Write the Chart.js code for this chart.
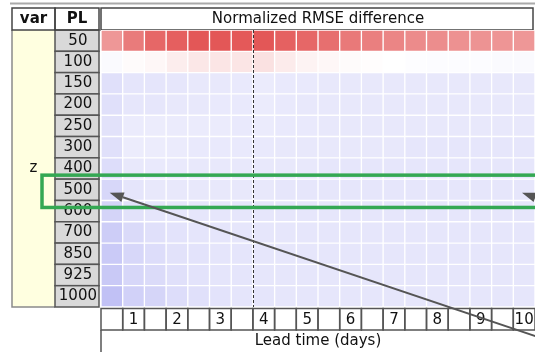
<!DOCTYPE html>
<html>
<head>
<meta charset="utf-8">
<script src="https://cdn.jsdelivr.net/npm/chart.js@4/dist/chart.umd.min.js"></script>
<style>
  body { margin: 0; background: #fff; }
  canvas { display: block; }
</style>
</head>
<body>
<canvas id="card" width="535" height="352"></canvas>
<script>
// pressure levels (rows) and lead times in days (columns)
const pressureLevels = ['50', '100', '150', '200', '250', '300', '400', '500', '600', '700', '850', '925', '1000'];
const leadTimes = [0.5, 1, 1.5, 2, 2.5, 3, 3.5, 4, 4.5, 5, 5.5, 6, 6.5, 7, 7.5, 8, 8.5, 9, 9.5, 10];
const variableName = 'z';
const splitDay = 3.5;      // dashed line
const highlightLevel = '500';

// normalized RMSE difference per level (positive = red, negative = blue)
const z50   = [0.52, 0.66, 0.76, 0.80, 0.84, 0.84, 0.83, 0.84, 0.79, 0.76, 0.72, 0.67, 0.64, 0.61, 0.58, 0.57, 0.55, 0.54, 0.53, 0.52];
const z100  = [-0.03, 0.02, 0.04, 0.09, 0.12, 0.13, 0.13, 0.15, 0.10, 0.06, 0.04, 0.02, 0.01, 0.0, -0.01, -0.02, -0.02, -0.02, -0.03, -0.03];
const z150  = [-0.20, -0.17, -0.17, -0.16, -0.15, -0.15, -0.14, -0.13, -0.14, -0.14, -0.15, -0.15, -0.15, -0.15, -0.15, -0.15, -0.15, -0.15, -0.15, -0.15];
const z200  = [-0.20, -0.16, -0.16, -0.15, -0.15, -0.14, -0.14, -0.13, -0.14, -0.15, -0.15, -0.15, -0.15, -0.15, -0.15, -0.15, -0.15, -0.15, -0.15, -0.15];
const z250  = [-0.19, -0.13, -0.12, -0.13, -0.13, -0.13, -0.14, -0.13, -0.14, -0.14, -0.15, -0.15, -0.15, -0.15, -0.15, -0.15, -0.15, -0.15, -0.15, -0.15];
const z300  = [-0.20, -0.12, -0.12, -0.13, -0.14, -0.14, -0.14, -0.14, -0.15, -0.15, -0.15, -0.15, -0.15, -0.15, -0.16, -0.16, -0.16, -0.16, -0.16, -0.16];
const z400  = [-0.22, -0.15, -0.14, -0.14, -0.15, -0.15, -0.15, -0.15, -0.15, -0.15, -0.16, -0.16, -0.16, -0.16, -0.16, -0.16, -0.16, -0.16, -0.16, -0.16];
const z500  = [-0.26, -0.17, -0.15, -0.15, -0.15, -0.15, -0.15, -0.15, -0.16, -0.16, -0.16, -0.16, -0.16, -0.16, -0.16, -0.16, -0.16, -0.16, -0.16, -0.16];
const z600  = [-0.28, -0.19, -0.17, -0.16, -0.16, -0.16, -0.16, -0.16, -0.16, -0.16, -0.16, -0.16, -0.16, -0.16, -0.16, -0.16, -0.16, -0.16, -0.16, -0.16];
const z700  = [-0.32, -0.24, -0.20, -0.18, -0.17, -0.17, -0.16, -0.16, -0.16, -0.16, -0.16, -0.16, -0.16, -0.16, -0.16, -0.16, -0.16, -0.16, -0.16, -0.16];
const z850  = [-0.34, -0.26, -0.22, -0.19, -0.18, -0.17, -0.17, -0.16, -0.16, -0.16, -0.16, -0.16, -0.16, -0.16, -0.16, -0.16, -0.16, -0.16, -0.16, -0.16];
const z925  = [-0.35, -0.26, -0.23, -0.20, -0.18, -0.17, -0.17, -0.16, -0.16, -0.16, -0.16, -0.16, -0.16, -0.16, -0.16, -0.16, -0.16, -0.16, -0.16, -0.16];
const z1000 = [-0.40, -0.30, -0.27, -0.22, -0.20, -0.18, -0.17, -0.17, -0.16, -0.16, -0.16, -0.16, -0.16, -0.16, -0.16, -0.16, -0.16, -0.16, -0.16, -0.16];

const rows = [z50, z100, z150, z200, z250, z300, z400, z500, z600, z700, z850, z925, z1000];

const FONT = 'DejaVu Sans';

function cellColor(v) {
    if (v >= 0) {
        const gb = Math.round(255 - 200 * v);
        return `rgb(${Math.round(255 - 33 * v)},${gb},${gb})`;
    }
    const a = -v;
    const rg = Math.round(255 - 155 * a);
    return `rgb(${rg},${rg},${Math.round(255 - 25 * a)})`;
}

// one stacked dataset per lead time column, one unit cell per level
const datasets = leadTimes.map((t, j) => ({
    label: t + ' d',
    data: pressureLevels.map(() => 1),
    backgroundColor: rows.map(r => cellColor(r[j])),
    borderColor: '#ffffff',
    borderWidth: 1,
    borderSkipped: false,
    barPercentage: 1,
    categoryPercentage: 1
}));

function drawArrow(ctx, x1, y1, x2, y2) {
    const ang = Math.atan2(y2 - y1, x2 - x1);
    const len = 14, half = 5;
    const bx = x2 - len * Math.cos(ang), by = y2 - len * Math.sin(ang);
    ctx.beginPath();
    ctx.moveTo(x1, y1);
    ctx.lineTo(bx, by);
    ctx.stroke();
    ctx.beginPath();
    ctx.moveTo(x2, y2);
    ctx.lineTo(bx + half * Math.sin(ang), by - half * Math.cos(ang));
    ctx.lineTo(bx - half * Math.sin(ang), by + half * Math.cos(ang));
    ctx.closePath();
    ctx.fill();
}

// table frame round the heat map
const scorecardFrame = {
    id: 'scorecardFrame',
    beforeDraw(chart) {
        const ctx = chart.ctx;
        const area = chart.chartArea;
        const y = chart.scales.y;
        const rowH = (area.bottom - area.top) / pressureLevels.length;
        ctx.save();

        ctx.strokeStyle = '#aaaaaa';
        ctx.lineWidth = 2;
        ctx.beginPath();
        ctx.moveTo(10, 3.5);
        ctx.lineTo(535, 3.5);
        ctx.stroke();

        // var column
        ctx.fillStyle = '#ffffe0';
        ctx.fillRect(12, area.top, 43, area.bottom - area.top);
        ctx.strokeStyle = '#8a8a8a';
        ctx.lineWidth = 1.5;
        ctx.beginPath();
        ctx.moveTo(12, area.top);
        ctx.lineTo(12, area.bottom);
        ctx.lineTo(55, area.bottom);
        ctx.stroke();

        // PL boxes
        ctx.strokeStyle = '#555555';
        pressureLevels.forEach((p, i) => {
            const top = y.getPixelForValue(i) - rowH / 2;
            ctx.fillStyle = '#d9d9d9';
            ctx.fillRect(55, top, 44, rowH);
            ctx.strokeRect(55, top, 44, rowH);
        });

        // header boxes
        ctx.strokeStyle = '#444444';
        ctx.strokeRect(12, 8, 43, area.top - 8);
        ctx.strokeRect(55, 8, 44, area.top - 8);
        ctx.strokeRect(area.left, 8, 533 - area.left, area.top - 8);

        ctx.fillStyle = '#111111';
        ctx.font = 'bold 15px "' + FONT + '"';
        ctx.textAlign = 'center';
        ctx.textBaseline = 'middle';
        ctx.fillText('var', 33.5, 19);
        ctx.fillText('PL', 77, 19);
        ctx.font = '15px "' + FONT + '"';
        ctx.fillText(variableName, 33.5, (area.top + area.bottom) / 2);

        // lead time boxes
        const x = chart.scales.x;
        ctx.strokeStyle = '#555555';
        leadTimes.forEach((t, j) => {
            const l = x.getPixelForValue(j), r = x.getPixelForValue(j + 1);
            ctx.strokeRect(l, area.bottom + 1.5, r - l, 21.5);
        });
        ctx.beginPath();
        ctx.moveTo(area.left, area.bottom + 23);
        ctx.lineTo(area.left, 352);
        ctx.stroke();
        ctx.restore();
    },
    afterDatasetsDraw(chart) {
        const ctx = chart.ctx;
        const area = chart.chartArea;
        const x = chart.scales.x, y = chart.scales.y;
        const rowH = (area.bottom - area.top) / pressureLevels.length;
        ctx.save();

        // dashed split line
        const sx = x.getPixelForValue(leadTimes.indexOf(splitDay) + 1);
        ctx.strokeStyle = '#333333';
        ctx.lineWidth = 1;
        ctx.setLineDash([3, 2]);
        ctx.beginPath();
        ctx.moveTo(Math.round(sx) + 0.5, area.top);
        ctx.lineTo(Math.round(sx) + 0.5, area.bottom);
        ctx.stroke();
        ctx.setLineDash([]);

        // highlight box
        const hy = y.getPixelForValue(pressureLevels.indexOf(highlightLevel));
        ctx.strokeStyle = '#34a853';
        ctx.lineWidth = 3.5;
        ctx.strokeRect(42, hy - rowH / 2 - 4, 510, rowH + 11);

        // arrows
        ctx.strokeStyle = '#555555';
        ctx.fillStyle = '#555555';
        ctx.lineWidth = 2;
        drawArrow(ctx, 550, 341, x.getPixelForValue(0.4), hy + 3);
        drawArrow(ctx, 660, 240, x.getPixelForValue(19.4), hy + 3);
        ctx.restore();
    }
};

new Chart(document.getElementById('card'), {
    type: 'bar',
    data: { labels: pressureLevels, datasets: datasets },
    options: {
        indexAxis: 'y',
        responsive: false,
        devicePixelRatio: 1,
        animation: false,
        events: [],
        layout: { padding: 0 },
        plugins: {
            legend: { display: false },
            tooltip: { enabled: false },
            title: {
                display: true,
                text: 'Normalized RMSE difference',
                fullSize: false,
                color: '#111111',
                font: { family: FONT, size: 15, weight: 'normal' },
                padding: { top: 10, bottom: 2 }
            }
        },
        scales: {
            x: {
                type: 'linear',
                stacked: true,
                min: 0,
                max: leadTimes.length,
                display: false
            },
            x2: {
                type: 'category',
                labels: leadTimes.map(String),
                position: 'bottom',
                offset: true,
                grid: { display: false, drawTicks: false },
                border: { display: false },
                ticks: {
                    autoSkip: false,
                    maxRotation: 0,
                    padding: 4,
                    color: '#111111',
                    font: { family: FONT, size: 15 },
                    callback: function (v, i) {
                        return Number.isInteger(leadTimes[i]) ? String(leadTimes[i]) : '';
                    }
                },
                title: {
                    display: true,
                    text: 'Lead time (days)',
                    color: '#111111',
                    font: { family: FONT, size: 15 },
                    padding: { top: 0, bottom: 2 }
                },
                afterFit: s => {
                    s.height = 45;
                    s.paddingLeft = 0;
                    s.paddingRight = 0;
                }
            },
            y: {
                type: 'category',
                stacked: true,
                offset: true,
                grid: { display: false, drawTicks: false },
                border: { display: false },
                ticks: {
                    crossAlign: 'center',
                    padding: 4,
                    color: '#111111',
                    font: { family: FONT, size: 15 }
                },
                afterFit: s => {
                    s.width = 101;
                    s.paddingTop = 0;
                    s.paddingBottom = 0;
                }
            }
        }
    },
    plugins: [scorecardFrame]
});
</script>
</body>
</html>
